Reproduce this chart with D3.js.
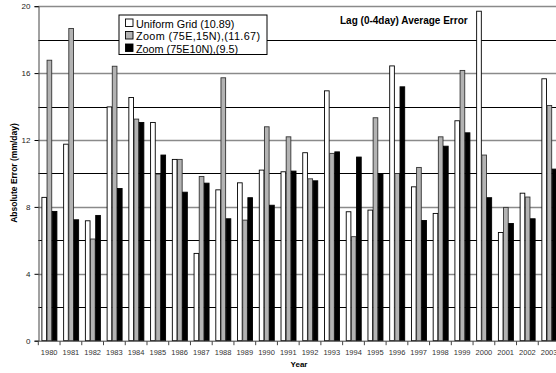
<!DOCTYPE html>
<html>
<head>
<meta charset="utf-8">
<script src="https://cdn.jsdelivr.net/npm/d3@7"></script>
<style>
  html, body { margin: 0; padding: 0; background: #fff; }
  svg { display: block; font-family: "Liberation Sans", Arial, sans-serif; }
</style>
</head>
<body>
<div id="chart"></div>
<script>
const YEARS = ["1980","1981","1982","1983","1984","1985","1986","1987","1988","1989","1990","1991",
               "1992","1993","1994","1995","1996","1997","1998","1999","2000","2001","2002","2003"];
const SERIES = ["Uniform Grid (10.89)", "Zoom (75E,15N),(11.67)", "Zoom (75E10N),(9.5)"];
const UNIFORM = [8.57,11.75,7.17,13.98,14.54,13.05,10.84,5.22,9.02,9.44,10.2,10.1,
                 11.24,14.94,7.71,7.81,16.43,9.2,7.61,13.15,19.7,6.47,8.82,15.66];
const ZOOM15N = [16.77,18.67,6.08,16.41,13.25,9.96,10.84,9.82,15.72,7.21,12.79,12.19,
                 9.68,11.2,6.22,13.33,10.0,10.36,12.19,16.16,11.1,7.97,8.59,14.06];
const ZOOM10N = [7.73,7.23,7.49,9.1,13.05,11.1,8.88,9.42,7.29,8.55,8.1,10.14,
                 9.56,11.29,10.98,10.0,15.18,7.19,11.63,12.43,8.55,7.01,7.29,10.26];
const Y_TICKS = [0, 4, 8, 12, 16, 20];
const GRID = [2, 4, 6, 8, 10, 12, 14, 16, 18, 20];

const W = 556, H = 373;
const fills = ["#ffffff", "#b3b3b3", "#000000"];
const values = [UNIFORM, ZOOM15N, ZOOM10N];

const svg = d3.select("#chart").append("svg").attr("width", W).attr("height", H);

const x0 = d3.scaleBand().domain(YEARS).range([38.3, 560]).padding(0);
const x1 = d3.scaleBand().domain(d3.range(3)).range([3.1, 18.6]).padding(0);
const y = d3.scaleLinear().domain([0, 20]).range([340.7, 6.2]);

// gridlines
svg.append("g").selectAll("line").data(GRID).join("line")
  .attr("x1", 38.3).attr("x2", W)
  .attr("y1", d => Math.round(y(d)) + 0.5).attr("y2", d => Math.round(y(d)) + 0.5)
  .attr("stroke", d => d % 4 === 0 ? "#8a8a8a" : "#000")
  .attr("stroke-width", d => d % 4 === 0 ? 1.3 : 1);

// title
svg.append("text").attr("x", 340).attr("y", 24)
  .attr("font-size", 10).attr("font-weight", "bold").text("Lag (0-4day) Average Error");

// bars
const groups = svg.append("g").selectAll("g").data(YEARS).join("g")
  .attr("transform", d => `translate(${x0(d)},0)`);
groups.selectAll("rect").data((d, i) => values.map((v, s) => ({s, v: v[i]}))).join("rect")
  .attr("x", d => x1(d.s) + 0.5)
  .attr("width", x1.bandwidth() - 0.5)
  .attr("y", d => y(d.v))
  .attr("height", d => y(0) - y(d.v))
  .attr("fill", d => fills[d.s])
  .attr("stroke", d => d.s === 1 ? "#333" : "#000")
  .attr("stroke-width", 0.9);

// legend
const lg = svg.append("g").attr("transform", "translate(119,15)");
lg.append("rect").attr("width", 148).attr("height", 39.5)
  .attr("fill", "#fff").attr("stroke", "#000").attr("stroke-width", 1);
SERIES.forEach((name, i) => {
  const row = lg.append("g").attr("transform", `translate(6,${3.5 + i * 12.5})`);
  row.append("rect").attr("x", 0.5).attr("y", 0.5).attr("width", 7.5).attr("height", 7.5)
    .attr("fill", fills[i]).attr("stroke", "#000").attr("stroke-width", 0.9);
  row.append("text").attr("x", 11).attr("y", 9).attr("font-size", 10.8)
    .attr("textLength", i === 1 ? 124 : null).text(name);
});

// y axis
const yAxis = d3.axisLeft(y).tickValues(Y_TICKS).tickSize(4).tickPadding(4);
const ya = svg.append("g").attr("transform", "translate(38.5,0)").call(yAxis);
ya.select(".domain").attr("stroke", "#444");
ya.selectAll("text").attr("font-size", 8).attr("fill", "#222").attr("font-family", null);

// x axis
const xa = svg.append("g").attr("transform", `translate(0,${y(0) + 0.5})`);
xa.append("line").attr("x1", 38.3).attr("x2", W).attr("stroke", "#444");
xa.selectAll("line.t").data(YEARS.concat(["end"])).join("line").attr("class", "t")
  .attr("x1", (d, i) => x0.range()[0] + i * x0.step()).attr("x2", (d, i) => x0.range()[0] + i * x0.step())
  .attr("y1", 0).attr("y2", 4).attr("stroke", "#444");
xa.selectAll("text").data(YEARS).join("text")
  .attr("x", d => x0(d) + x0.bandwidth() / 2).attr("y", 14)
  .attr("text-anchor", "middle").attr("font-size", 7.5).attr("fill", "#333").text(d => d);

svg.append("text").attr("x", 299).attr("y", 367).attr("text-anchor", "middle")
  .attr("font-size", 8).attr("font-weight", "bold").text("Year");

svg.append("text").attr("transform", "translate(17,173) rotate(-90)")
  .attr("text-anchor", "middle").attr("font-size", 8.5).attr("font-weight", "bold")
  .text("Absolute Error (mm/day)");
</script>
</body>
</html>
